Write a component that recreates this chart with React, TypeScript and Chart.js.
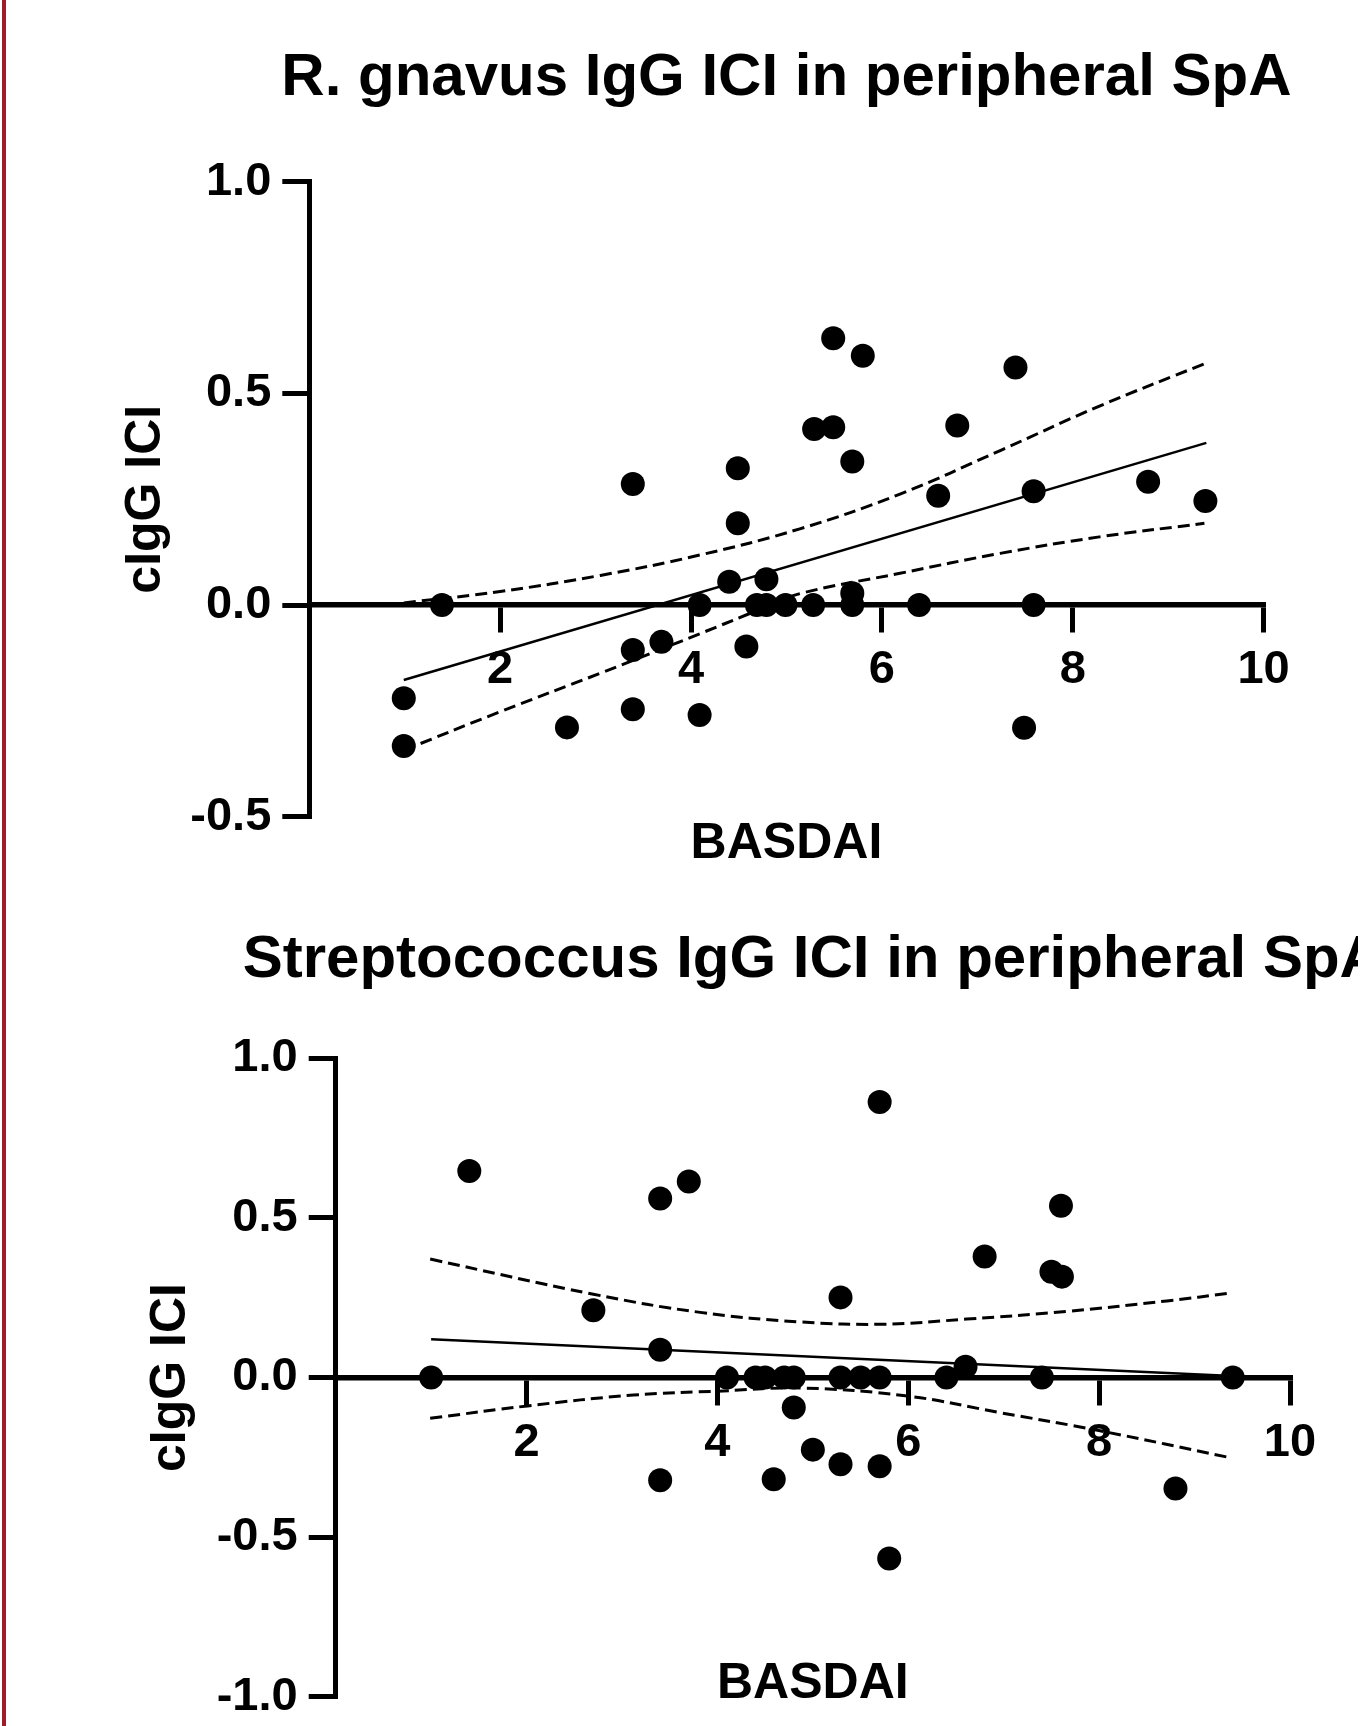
import React, { useEffect, useRef } from 'react';
import { Chart, registerables } from 'chart.js';

Chart.register(...registerables);

const FONT = '"Liberation Sans", Arial, Helvetica, sans-serif';

// ---------- Chart 1: R. gnavus ----------
const gnavusTitle = 'R. gnavus IgG ICI in peripheral SpA';
const gnavusBasdai = [0.99, 0.99, 1.39, 2.70, 3.39, 3.39, 3.39, 3.69, 4.09, 4.09, 4.40, 4.49, 4.49, 4.58, 4.69, 4.79, 4.79, 4.99, 5.29, 5.28, 5.49, 5.49, 5.69, 5.69, 5.69, 5.80, 6.39, 6.59, 6.79, 7.40, 7.49, 7.59, 7.59, 8.79, 9.39];
const gnavusIci = [-0.220, -0.333, 0, -0.289, 0.286, -0.106, -0.246, -0.087, 0, -0.260, 0.055, 0.323, 0.193, -0.098, 0, 0.061, 0, 0, 0.416, 0, 0.630, 0.420, 0.339, 0.028, 0, 0.589, 0, 0.258, 0.424, 0.561, -0.290, 0.269, 0, 0.291, 0.246];
const gnavusFitX = [0.99, 9.40];
const gnavusFitY = [-0.177, 0.383];
const gnavusUpperX = [0.99, 2.0, 3.05, 4.09, 5.14, 6.19, 7.24, 8.28, 9.38];
const gnavusUpperY = [0.005, 0.032, 0.070, 0.118, 0.180, 0.262, 0.365, 0.470, 0.570];
const gnavusLowerX = [0.99, 2.0, 3.05, 4.09, 4.79, 5.14, 6.19, 7.24, 8.28, 9.38];
const gnavusLowerY = [-0.343, -0.252, -0.161, -0.068, -0.004, 0.027, 0.075, 0.122, 0.161, 0.193];
const gnavusYTicks = [-0.5, 0, 0.5, 1.0];
const gnavusYLabels = ['-0.5', '0.0', '0.5', '1.0'];

// ---------- Chart 2: Streptococcus ----------
const strepTitle = 'Streptococcus IgG ICI in peripheral SpA';
const strepBasdai = [1.00, 1.40, 2.70, 3.40, 3.40, 3.40, 3.70, 4.10, 4.40, 4.50, 4.59, 4.70, 4.80, 4.80, 5.00, 5.29, 5.29, 5.29, 5.50, 5.70, 5.70, 5.70, 5.80, 6.40, 6.60, 6.80, 7.40, 7.50, 7.60, 7.61, 8.80, 9.40];
const strepIci = [0, 0.647, 0.211, 0.561, 0.087, -0.322, 0.614, 0, 0, 0, -0.319, 0, 0, -0.094, -0.226, 0.251, 0, -0.272, 0, 0.863, 0, -0.278, -0.567, 0, 0.034, 0.379, 0, 0.331, 0.538, 0.316, -0.348, 0];
const strepFitX = [1.0, 9.40];
const strepFitY = [0.120, 0.005];
const strepUpperX = [0.99, 2.70, 3.82, 4.87, 5.74, 6.61, 7.66, 8.71, 9.37];
const strepUpperY = [0.371, 0.261, 0.204, 0.174, 0.167, 0.183, 0.207, 0.240, 0.264];
const strepLowerX = [0.99, 2.01, 3.12, 4.06, 4.87, 5.99, 6.96, 8.01, 9.37];
const strepLowerY = [-0.128, -0.089, -0.055, -0.042, -0.033, -0.058, -0.110, -0.167, -0.251];
const strepYTicks = [-1.0, -0.5, 0, 0.5, 1.0];
const strepYLabels = ['-1.0', '-0.5', '0.0', '0.5', '1.0'];

// shared x axis
const xTickValues = [2, 4, 6, 8, 10];
const xTickLabels = ['2', '4', '6', '8', '10'];
const xAxisTitle = 'BASDAI';
const yAxisTitle = 'cIgG ICI';

const toXY = (xs: number[], ys: number[]) => xs.map((x, i) => ({ x, y: ys[i] }));

const centeredTitle = {
  id: 'centeredTitle',
  afterDraw(chart: any, _args: any, opts: any) {
    const { ctx, chartArea } = chart;
    ctx.save();
    ctx.font = `bold ${opts.size}px ${FONT}`;
    ctx.fillStyle = '#000';
    ctx.textAlign = 'center';
    ctx.textBaseline = 'alphabetic';
    ctx.fillText(opts.text, (chartArea.left + chartArea.right) / 2, chartArea.top - opts.gap);
    ctx.restore();
  },
};

interface Cfg {
  title: string;
  titleGap: number;
  xs: number[];
  ys: number[];
  fitX: number[];
  fitY: number[];
  upX: number[];
  upY: number[];
  loX: number[];
  loY: number[];
  yTicks: number[];
  yLabels: string[];
  yMin: number;
  yMax: number;
  yWidth: number;
  yTitlePad: number;
  xHeight: number;
  padding: { left: number; right: number; top: number; bottom: number };
}

function makeConfig(c: Cfg): any {
  const tickFont = { family: FONT, size: 47, weight: 'bold' as const };
  const axisFont = { family: FONT, size: 50, weight: 'bold' as const };
  return {
    type: 'scatter',
    data: {
      datasets: [
        {
          data: toXY(c.xs, c.ys),
          backgroundColor: '#000',
          borderWidth: 0,
          pointRadius: 12,
          pointHoverRadius: 12,
          showLine: false,
        },
        {
          data: toXY(c.fitX, c.fitY),
          showLine: true,
          borderColor: '#000',
          borderWidth: 2.5,
          pointRadius: 0,
          fill: false,
        },
        {
          data: toXY(c.upX, c.upY),
          showLine: true,
          borderColor: '#000',
          borderWidth: 3,
          borderDash: [12, 6],
          pointRadius: 0,
          tension: 0.4,
          fill: false,
        },
        {
          data: toXY(c.loX, c.loY),
          showLine: true,
          borderColor: '#000',
          borderWidth: 3,
          borderDash: [12, 6],
          pointRadius: 0,
          tension: 0.4,
          fill: false,
        },
      ],
    },
    options: {
      animation: false,
      responsive: false,
      events: [],
      layout: { padding: c.padding },
      plugins: {
        legend: { display: false },
        tooltip: { enabled: false },
        title: { display: false },
        centeredTitle: { text: c.title, size: 60, gap: c.titleGap },
      },
      elements: { line: { borderCapStyle: 'butt' } },
      scales: {
        x: {
          type: 'linear',
          position: { y: 0 },
          min: 0,
          max: 10,
          afterBuildTicks: (s: any) => {
            s.ticks = xTickValues.map((v) => ({ value: v }));
          },
          afterFit: (s: any) => {
            s.height = c.xHeight;
            s.paddingLeft = 0;
            s.paddingRight = 0;
          },
          grid: {
            drawOnChartArea: false,
            drawTicks: true,
            tickLength: 25,
            tickWidth: 5,
            tickColor: '#000',
            color: '#000',
            lineWidth: 5,
          },
          border: { display: true, color: '#000', width: 5.5 },
          ticks: {
            color: '#000',
            font: tickFont,
            padding: 12,
            autoSkip: false,
            maxRotation: 0,
            callback: (_v: any, i: number) => xTickLabels[i],
          },
          title: {
            display: true,
            text: xAxisTitle,
            color: '#000',
            font: axisFont,
            padding: 0,
          },
        },
        y: {
          type: 'linear',
          position: 'left',
          min: c.yMin,
          max: c.yMax,
          afterBuildTicks: (s: any) => {
            s.ticks = c.yTicks.map((v) => ({ value: v }));
          },
          afterFit: (s: any) => {
            s.width = c.yWidth;
            s.paddingTop = 0;
            s.paddingBottom = 0;
          },
          grid: {
            drawOnChartArea: false,
            drawTicks: true,
            tickLength: 27,
            tickWidth: 5,
            tickColor: '#000',
            color: '#000',
            lineWidth: 5,
          },
          border: { display: true, color: '#000', width: 5 },
          ticks: {
            color: '#000',
            font: tickFont,
            padding: 11,
            autoSkip: false,
            callback: (_v: any, i: number) => c.yLabels[i],
          },
          title: {
            display: true,
            text: yAxisTitle,
            color: '#000',
            font: axisFont,
            padding: { top: c.yTitlePad, bottom: 0 },
          },
        },
      },
    },
    plugins: [centeredTitle],
  };
}

const W = 1358;
const H1 = 890;
const H2 = 820;

export default function App() {
  const ref1 = useRef<HTMLCanvasElement>(null);
  const ref2 = useRef<HTMLCanvasElement>(null);

  useEffect(() => {
    document.documentElement.style.overflow = 'hidden';
    const c1 = new Chart(
      ref1.current as HTMLCanvasElement,
      makeConfig({
        title: gnavusTitle,
        titleGap: 86.7,
        xs: gnavusBasdai,
        ys: gnavusIci,
        fitX: gnavusFitX,
        fitY: gnavusFitY,
        upX: gnavusUpperX,
        upY: gnavusUpperY,
        loX: gnavusLowerX,
        loY: gnavusLowerY,
        yTicks: gnavusYTicks,
        yLabels: gnavusYLabels,
        yMin: -0.5,
        yMax: 1.0,
        yWidth: 301.3,
        yTitlePad: 108,
        xHeight: 268.9,
        padding: { left: 0, right: W - 1255.6, top: 173.7, bottom: H1 - 808.7 },
      })
    );
    const c2 = new Chart(
      ref2.current as HTMLCanvasElement,
      makeConfig({
        title: strepTitle,
        titleGap: 81.6,
        xs: strepBasdai,
        ys: strepIci,
        fitX: strepFitX,
        fitY: strepFitY,
        upX: strepUpperX,
        upY: strepUpperY,
        loX: strepLowerX,
        loY: strepLowerY,
        yTicks: strepYTicks,
        yLabels: strepYLabels,
        yMin: -1.0,
        yMax: 1.0,
        yWidth: 327.7,
        yTitlePad: 133,
        xHeight: 337.2,
        padding: { left: 0, right: W - 1282, top: 160.3, bottom: H2 - 798.7 },
      })
    );
    return () => {
      c1.destroy();
      c2.destroy();
    };
  }, []);

  return (
    <>
      <div style={{ position: 'relative', width: W, height: H1 + H2, overflow: 'hidden', background: '#fff' }}>
        <canvas ref={ref1} width={W} height={H1} style={{ position: 'absolute', left: 0, top: 0, display: 'block' }} />
        <canvas ref={ref2} width={W} height={H2} style={{ position: 'absolute', left: 0, top: H1, display: 'block' }} />
      </div>
      <div style={{ position: 'fixed', left: 2, top: 0, width: 4, height: '100vh', background: '#a01c28' }} />
    </>
  );
}
